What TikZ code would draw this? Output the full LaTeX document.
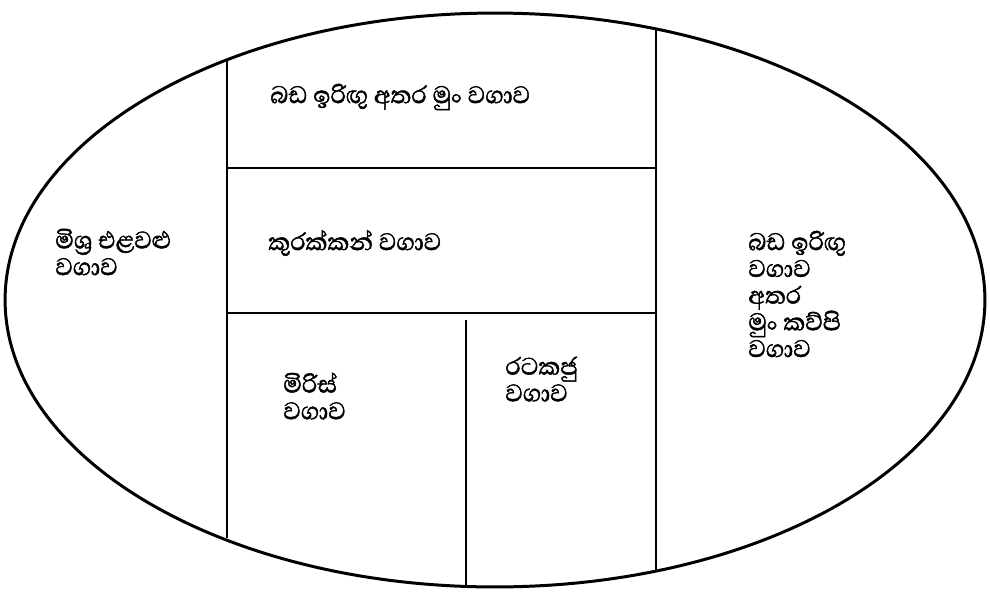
\documentclass[tikz,border=0pt]{standalone}
\usepackage{fontspec}
\newfontfamily\sinhalafont[Script=Sinhala, FakeBold=1.6]{Abhaya Libre}
\usetikzlibrary{positioning}

\begin{document}
\begin{tikzpicture}[x=0.02cm, y=-0.02cm,
    crop/.style={font=\sinhalafont\fontsize{17.5}{15.2}\selectfont, align=left, inner sep=0pt, anchor=west},
    border/.style={line width=1.7pt},
    divider/.style={line width=1.1pt}]
    \useasboundingbox (0,0) rectangle (990,592);

    % Field outline
    \draw[border] (495,300) ellipse [x radius=9.8cm, y radius=5.74cm];

    % Plot divisions
    \coordinate (TL) at (227,168);
    \coordinate (TR) at (656,168);
    \coordinate (BL) at (227,313);
    \coordinate (BR) at (656,313);
    \draw[divider] (TL) -- (TR);
    \draw[divider] (BL) -- (BR);
    \begin{scope}
        \clip (495,300) ellipse [x radius=9.8cm, y radius=5.74cm];
        \draw[divider] (227,0) -- (227,538);
        \draw[divider] (656,0) -- (656,592);
        \draw[divider] (466,320) -- (466,592);
    \end{scope}

    % Labels
    \node[crop] (MaizeMung) at (270,97) {බඩ ඉරිඟු අතර මුං වගාව};
    \node[crop] (Kurakkan) at (268,243) {කුරක්කන් වගාව};
    \node[crop] (Mixed) at (55,252) {මිශ්‍ර එළවළු\\වගාව};
    \node[crop] (MaizeCowpea) at (748,294) {බඩ ඉරිඟු\\වගාව\\අතර\\මුං කව්පි\\වගාව};
    \node[crop] (Chilli) at (283,396) {මිරිස්\\වගාව};
    \node[crop] (Groundnut) at (505,379) {රටකජු\\වගාව};

\end{tikzpicture}
\end{document}
